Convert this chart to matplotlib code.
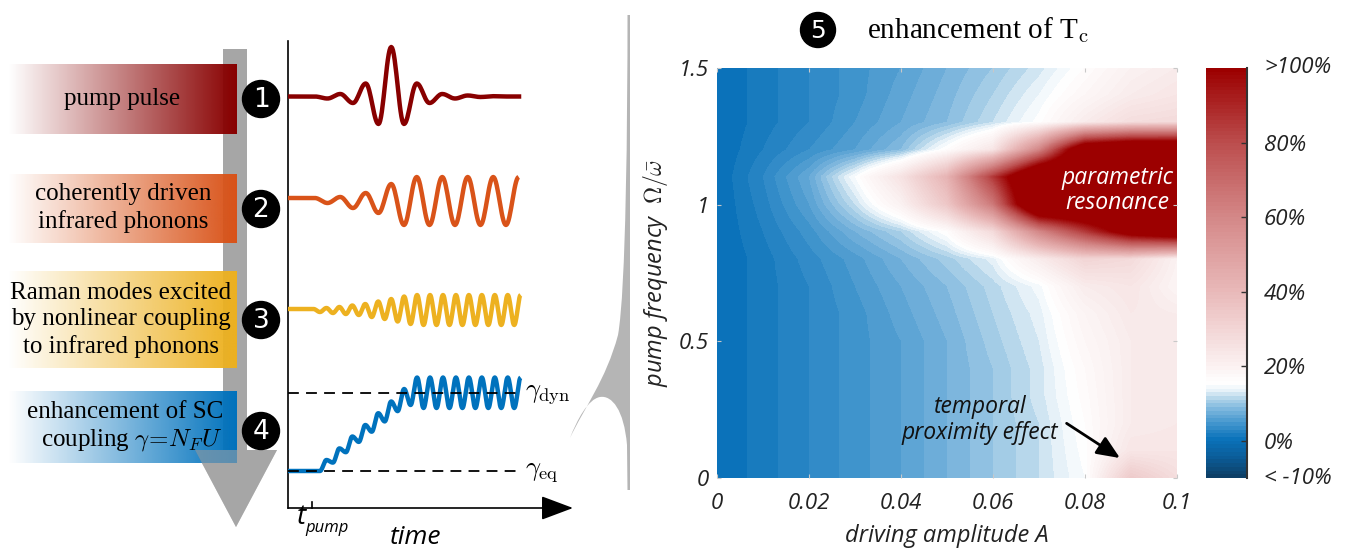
import numpy as np
import matplotlib.pyplot as plt
from matplotlib.colors import LinearSegmentedColormap, to_rgb
from matplotlib.patches import Rectangle, Polygon, Circle, PathPatch
from matplotlib.path import Path

plt.rcParams['mathtext.fontset'] = 'cm'
plt.rcParams['font.family'] = ['Open Sans', 'DejaVu Sans']

W, H = 1350, 550
SERIF = ['Liberation Serif', 'DejaVu Serif']

# ---- left: the four steps of the mechanism ----
STEP_LABELS = ['pump pulse',
               'coherently driven\ninfrared phonons',
               'Raman modes excited\nby nonlinear coupling\nto infrared phonons',
               'enhancement of SC\ncoupling $\\gamma\\!=\\!N_F U$']
STEP_COLORS = ['#880000', '#d95319', '#edb120', '#0072bd']
STEP_NUMBERS = ['1', '2', '3', '4']

# ---- middle: schematic time traces (time in pump periods, height in a.u.) ----
T_PUMP = 0.95
T_END = 9.15
PUMP_BASE, IR_BASE, RAMAN_BASE = 41.15, 31.0, 19.9
GAMMA_EQ, GAMMA_DYN = 3.7, 11.5
# successive minima / maxima of every trace, relative to its baseline
PUMP_EXT = [-0.2, 0.25, -0.65, 1.3, -2.75, 4.95, -2.75, 1.3, -0.65, 0.25, -0.2, 0.1, -0.05, 0.03, 0.0, 0.0]
IR_EXT = [-0.5, 0.1, -1.0, 0.5, -1.5, 1.4, -2.7, 2.1, -2.7, 2.1, -2.7, 2.1, -2.7, 2.1, -2.7, 2.1]
RAMAN_EXT = [-0.3, 0.1, -0.4, 0.2, -0.5, 0.35, -0.6, 0.5, -0.8, 0.75, -1.0, 1.0, -1.25, 1.25, -1.5, 1.4,
             -1.6, 1.4, -1.6, 1.4, -1.6, 1.4, -1.6, 1.4, -1.6, 1.4, -1.6, 1.4, -1.6, 1.4, -1.6, 1.4]
GAMMA_EXT = [0.0, 1.1, 0.84, 2.26, 1.88, 3.45, 2.91, 4.6, 3.93, 5.78, 4.96, 6.95, 5.99, 8.2, 6.6, 9.35,
             6.3, 9.35, 6.3, 9.35, 6.3, 9.35, 6.3, 9.35, 6.3, 9.35, 6.3, 9.35, 6.3, 9.35, 6.3, 9.35]

# ---- right: Tc enhancement (%) vs driving amplitude A and pump frequency ----
AMPLITUDE = [0.0, 0.01, 0.02, 0.03, 0.04, 0.05, 0.06, 0.07, 0.08, 0.09, 0.1]
FREQUENCY = [0.0, 0.1, 0.2, 0.3, 0.4, 0.5, 0.6, 0.7, 0.8, 0.9, 1.0, 1.1, 1.2, 1.3, 1.4, 1.5]
TC_GAIN = np.array([
    [0, 1.5, 3, 4.5, 6, 8, 10, 12, 15, 34, 27],
    [0, 1.5, 3, 4.5, 6, 8, 10, 12, 15.5, 24, 24],
    [0, 1.5, 3, 4.5, 6, 8, 10, 12, 16, 22, 23],
    [0, 1.5, 3, 4.5, 6, 8, 10, 12.5, 16.5, 22, 23],
    [0, 1.5, 3, 4.5, 6, 8, 10, 12.5, 17, 22, 23],
    [0, 1.5, 3, 4.5, 6, 8, 10.5, 13, 18, 22, 23],
    [0, 1.5, 3, 4.5, 6.5, 8.5, 11, 13.5, 19, 23, 22],
    [0, 1.5, 3, 5, 7, 9, 11.5, 14.5, 22, 24, 19],
    [0, 1.5, 3.5, 5.5, 8, 10.5, 13.5, 22, 30, 28, 20],
    [0, 2, 4.5, 8, 11, 16, 28, 60, 85, 110, 120],
    [0, 2.5, 6, 12, 20, 35, 65, 130, 130, 130, 130],
    [0, 3, 7, 15, 25, 42, 85, 130, 130, 130, 130],
    [0, 2, 4, 6, 9, 16, 24, 60, 120, 130, 130],
    [0, 1.5, 3, 5, 7, 9, 12, 15.5, 22, 27, 28],
    [0, 1.5, 3, 4.5, 6.5, 8.5, 11, 14, 18, 22, 24],
    [0, 1.5, 3, 4.5, 6, 8, 10, 12.5, 16, 20, 22],
])
X_TICKS = [0, 0.02, 0.04, 0.06, 0.08, 0.1]
X_TICK_LABELS = ['0', '0.02', '0.04', '0.06', '0.08', '0.1']
Y_TICKS = [0, 0.5, 1, 1.5]
Y_TICK_LABELS = ['0', '0.5', '1', '1.5']

CMAP_LEVELS = [-10, -5, 0, 4, 8, 11, 13, 15, 20, 40, 60, 80, 100]
CMAP_COLORS = ['#0d3f66', '#0b5c98', '#0a72ba', '#3e93cc', '#7ab5dd', '#b3d5ea', '#e4f0f8',
               '#ffffff', '#fbf1f1', '#e9b9b9', '#d48888', '#bc4e4e', '#9c0000']
CBAR_TICKS = [0, 20, 40, 60, 80]
CBAR_LABELS = ['0%', '20%', '40%', '60%', '80%']


def smooth_through(t0, half, ext, base, t_end=None):
    """curve through the listed extrema, half a period apart"""
    s = np.linspace(0, 1, 16)[1:]
    ts, ys = [0.0, t0], [base, base]
    prev = 0.0
    for i, e in enumerate(ext):
        ts.extend(t0 + i * half + half * s)
        ys.extend(base + prev + (e - prev) * (1 - np.cos(np.pi * s)) / 2)
        prev = e
    if t_end is not None:
        ts.append(t_end)
        ys.append(base + prev)
    return ts, ys


fig = plt.figure(figsize=(13.5, 5.5), dpi=100)

# --- schematic layer in pixel coordinates ---
bg = fig.add_axes([0, 0, 1, 1])
bg.axis('off')

arrow_grey = '#a6a6a6'
bg.add_patch(Rectangle((223, 49), 24, 401, color=arrow_grey, lw=0, zorder=1))
head = [(195, 450), (277, 450), (236, 527)]
bg.add_patch(Polygon(head, color=arrow_grey, lw=0, zorder=1))
bg.add_patch(Polygon(head, color=arrow_grey, lw=0, alpha=0.55, zorder=3))

box_y = [(64, 134), (174, 243), (271, 368), (391, 463)]
num_y = [99, 209, 320, 431]
for (y0, y1), col, lab, num, ny in zip(box_y, STEP_COLORS, STEP_LABELS, STEP_NUMBERS, num_y):
    grad = np.zeros((1, 256, 4))
    grad[..., :3] = to_rgb(col)
    grad[..., 3] = np.linspace(0, 1, 256)
    bg.imshow(grad, extent=(8, 237, y1, y0), aspect='auto', zorder=2, interpolation='bilinear')
    bg.add_patch(Circle((261, ny), 18.5, color='black', zorder=4))
    bg.text(261, ny + 1, num, color='white', fontsize=19, ha='center', va='center',
            family=['DejaVu Sans'], zorder=5)

bg.text(122, 99, STEP_LABELS[0], family=SERIF, fontsize=18, ha='center', va='center', zorder=5)
bg.text(123, 208, STEP_LABELS[1], family=SERIF, fontsize=18, ha='center', va='center',
        linespacing=1.25, zorder=5)
bg.text(121, 320, STEP_LABELS[2], family=SERIF, fontsize=18, ha='center', va='center',
        linespacing=1.25, zorder=5)
bg.text(223, 427, STEP_LABELS[3], family=SERIF, fontsize=18, ha='right', va='center',
        multialignment='right', linespacing=1.25, zorder=5)

# funnel from the time traces to the Tc map
funnel = Path([(627.5, 15), (630, 15), (630, 490), (627.5, 490), (627, 445),
               (624, 410), (612, 395), (600, 397),
               (588, 399), (577, 420), (570, 438),
               (584, 408), (606, 380), (618, 335),
               (626, 290), (627.5, 120), (627.5, 15)],
              [Path.MOVETO, Path.LINETO, Path.LINETO, Path.LINETO, Path.LINETO,
               Path.CURVE4, Path.CURVE4, Path.CURVE4,
               Path.CURVE4, Path.CURVE4, Path.CURVE4,
               Path.CURVE4, Path.CURVE4, Path.CURVE4,
               Path.CURVE4, Path.CURVE4, Path.CURVE4])
bg.add_patch(PathPatch(funnel, color='#b5b5b5', lw=0, zorder=1))

bg.add_patch(Circle((818, 30), 17.5, color='black', zorder=4))
bg.text(818, 31, '5', color='white', fontsize=18, ha='center', va='center', family=['DejaVu Sans'], zorder=5)
bg.text(867, 38, 'enhancement of T$_{\\rm c}$', family=SERIF, fontsize=21, va='baseline')

bg.set_xlim(0, W)
bg.set_ylim(H, 0)

# --- time traces ---
ax_t = fig.add_axes([288 / W, 42 / H, 285 / W, 467 / H])
ax_t.patch.set_alpha(0)
ax_t.set_xlim(0, 11.18)
ax_t.set_ylim(0, 46.7)
for s in ['top', 'right', 'bottom']:
    ax_t.spines[s].set_visible(False)
ax_t.spines['left'].set_linewidth(1.2)
ax_t.set_xticks([])
ax_t.set_yticks([])

traces = [(1.05, 0.5, PUMP_EXT, PUMP_BASE, T_END, STEP_COLORS[0]),
          (1.05, 0.5, IR_EXT, IR_BASE, None, STEP_COLORS[1]),
          (1.0, 0.254, RAMAN_EXT, RAMAN_BASE, None, STEP_COLORS[2]),
          (1.0, 0.254, GAMMA_EXT, GAMMA_EQ, None, STEP_COLORS[3])]
for t0, half, ext, base, t_end, col in traces:
    ts, ys = smooth_through(t0, half, ext, base, t_end)
    ax_t.plot(ts, ys, color=col, lw=3.2, solid_capstyle='butt', zorder=3)

ax_t.hlines([GAMMA_EQ, GAMMA_DYN], 0, T_END, colors='black', linestyles=(0, (6, 4)), lw=1.3, zorder=5)
ax_t.text(9.3, GAMMA_DYN, r'$\gamma_{\rm dyn}$', fontsize=19, va='center')
ax_t.text(9.3, GAMMA_EQ, r'$\gamma_{\rm eq}$', fontsize=19, va='center')

ax_t.annotate('', xy=(11.18, 0), xytext=(0, 0), annotation_clip=False,
              arrowprops=dict(arrowstyle='-|>,head_length=0.8,head_width=0.3', color='black',
                              lw=1.2, shrinkA=0, shrinkB=0, mutation_scale=25))
ax_t.plot([T_PUMP, T_PUMP], [0, 0.6], color='black', lw=1.2, clip_on=False)
ax_t.text(0.33, -1.65, 't', fontsize=20, style='italic', va='baseline')
ax_t.text(0.7, -2.35, 'pump', fontsize=12, style='italic', va='baseline')
ax_t.text(5.0, -2.9, 'time', fontsize=19, style='italic', ha='center', va='center')

# --- Tc map ---
cpos = [(v - CMAP_LEVELS[0]) / (CMAP_LEVELS[-1] - CMAP_LEVELS[0]) for v in CMAP_LEVELS]
cmap = LinearSegmentedColormap.from_list('tc', list(zip(cpos, CMAP_COLORS))).resampled(110)

ax = fig.add_axes([717 / W, 72 / H, 460 / W, 410 / H])
da = AMPLITUDE[1] - AMPLITUDE[0]
dfreq = FREQUENCY[1] - FREQUENCY[0]
extent = (AMPLITUDE[0] - da / 2, AMPLITUDE[-1] + da / 2, FREQUENCY[0] - dfreq / 2, FREQUENCY[-1] + dfreq / 2)
im = ax.imshow(TC_GAIN, origin='lower', extent=extent, aspect='auto', cmap=cmap, vmin=-10, vmax=100,
               interpolation='bilinear', interpolation_stage='data')
ax.set_xlim(AMPLITUDE[0], AMPLITUDE[-1])
ax.set_ylim(FREQUENCY[0], FREQUENCY[-1])
for s in ax.spines.values():
    s.set_visible(False)
ax.set_xticks(X_TICKS)
ax.set_xticklabels(X_TICK_LABELS)
ax.set_yticks(Y_TICKS)
ax.set_yticklabels(Y_TICK_LABELS)
ax.tick_params(direction='in', length=3, color='#c8c8c8', top=True, right=True, labelsize=16,
               labelcolor='#222222')
ax.tick_params(axis='x', pad=11)
ax.tick_params(axis='y', pad=6)
for lab in ax.get_xticklabels() + ax.get_yticklabels():
    lab.set_fontstyle('italic')
ax.set_xlabel('driving amplitude A', fontsize=17, style='italic', labelpad=7, color='#222222')
ax.set_ylabel('pump frequency  $\\Omega/\\bar{\\omega}$', fontsize=17, style='italic', labelpad=6,
              color='#222222')

ax.text(0.087, 1.098, 'parametric', color='white', fontsize=16.5, style='italic', ha='center',
        va='center', clip_on=True)
ax.text(0.087, 1.006, 'resonance', color='white', fontsize=16.5, style='italic', ha='center',
        va='center', clip_on=True)
ax.text(0.0572, 0.26, 'temporal', fontsize=16.5, style='italic', ha='center', va='center', color='#111111')
ax.text(0.0572, 0.165, 'proximity effect', fontsize=16.5, style='italic', ha='center', va='center',
        color='#111111')
ax.annotate('', xy=(0.0876, 0.073), xytext=(0.076, 0.2),
            arrowprops=dict(arrowstyle='-|>,head_length=0.7,head_width=0.3', color='black', lw=2,
                            shrinkA=0, shrinkB=0, mutation_scale=20))

# --- colorbar ---
cax = fig.add_axes([1206 / W, 72 / H, 41 / W, 410 / H])
cb = fig.colorbar(im, cax=cax, ticks=CBAR_TICKS)
cb.outline.set_visible(False)
cb.set_ticklabels(CBAR_LABELS)
cax.tick_params(direction='in', length=4, width=1, color='#333333', labelsize=16, pad=12,
                labelcolor='#222222')
for lab in cax.get_yticklabels():
    lab.set_fontstyle('italic')
cax.plot([1, 1], [0, 1], transform=cax.transAxes, color='#333333', lw=1.5, clip_on=False)
cax.text(1.42, 1.0, '>100%', transform=cax.transAxes, fontsize=16, style='italic', va='center',
         color='#222222')
cax.text(1.42, 0.0, '< -10%', transform=cax.transAxes, fontsize=16, style='italic', va='center',
         color='#222222')

fig.savefig('out.png', dpi=100)
